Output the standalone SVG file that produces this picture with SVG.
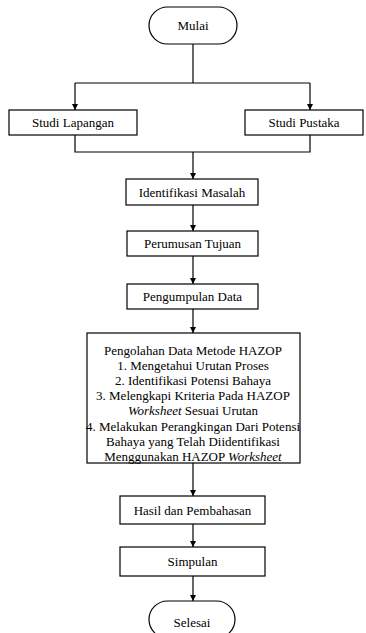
<svg xmlns="http://www.w3.org/2000/svg" width="366" height="633" viewBox="0 0 366 633">
<defs>
<marker id="ah" viewBox="0 0 10 10" refX="10" refY="5" markerWidth="6" markerHeight="7" markerUnits="userSpaceOnUse" orient="auto"><path d="M0,0 L10,5 L0,10 z" fill="#000"/></marker>
<style>
.b{fill:#fff;stroke:#000;stroke-width:1.2}
.t{font-family:'Liberation Serif','Times New Roman',serif;font-size:13px;fill:#000;text-anchor:middle}
.c{fill:none;stroke:#000;stroke-width:1.2}
.a{marker-end:url(#ah)}
</style>
</defs>
<rect width="366" height="633" fill="#fff"/>
<g id="connectors">
<path class="c" d="M193,44 V83"/>
<path class="c" d="M75,83 H310"/>
<path class="c a" d="M75,83 V110"/>
<path class="c a" d="M310,83 V110"/>
<path class="c" d="M75,135 V152 H310 V135"/>
<path class="c a" d="M193,152 V179"/>
<path class="c a" d="M193,205 V231"/>
<path class="c a" d="M193,256 V284"/>
<path class="c a" d="M193,309 V333"/>
<path class="c a" d="M193,463 V496"/>
<path class="c a" d="M193,524 V547"/>
<path class="c a" d="M193,576 V601"/>
</g>
<g font-family="Liberation Serif, Times New Roman, serif">
<g id="mulai"><rect class="b" x="149" y="7" width="88" height="37" rx="18.5"/><text class="t" x="193" y="30">Mulai</text></g>
<g id="studi-lapangan"><rect class="b" x="9" y="110" width="128" height="25"/><text class="t" x="73" y="127">Studi Lapangan</text></g>
<g id="studi-pustaka"><rect class="b" x="245" y="110" width="118" height="25"/><text class="t" x="304" y="127">Studi Pustaka</text></g>
<g id="identifikasi"><rect class="b" x="126" y="179" width="132" height="26"/><text class="t" x="192" y="196.5">Identifikasi Masalah</text></g>
<g id="perumusan"><rect class="b" x="127" y="231" width="131" height="25"/><text class="t" x="192.5" y="248">Perumusan Tujuan</text></g>
<g id="pengumpulan"><rect class="b" x="127" y="284" width="131" height="25"/><text class="t" x="192.5" y="301">Pengumpulan Data</text></g>
<g id="pengolahan"><rect class="b" x="87" y="333" width="213" height="130"/>
<text class="t" x="193" y="354.5">Pengolahan Data Metode HAZOP</text>
<text class="t" x="193" y="369.7">1. Mengetahui Urutan Proses</text>
<text class="t" x="193" y="384.9">2. Identifikasi Potensi Bahaya</text>
<text class="t" x="193" y="400.1">3. Melengkapi Kriteria Pada HAZOP</text>
<text class="t" x="193" y="415.3"><tspan font-style="italic">Worksheet</tspan> Sesuai Urutan</text>
<text class="t" x="193" y="430.5">4. Melakukan Perangkingan Dari Potensi</text>
<text class="t" x="193" y="445.7">Bahaya yang Telah Diidentifikasi</text>
<text class="t" x="193" y="460.9">Menggunakan HAZOP <tspan font-style="italic">Worksheet</tspan></text>
</g>
<g id="hasil"><rect class="b" x="120" y="496" width="145" height="28"/><text class="t" x="192.5" y="514.5">Hasil dan Pembahasan</text></g>
<g id="simpulan"><rect class="b" x="120" y="547" width="145" height="29"/><text class="t" x="192.5" y="566">Simpulan</text></g>
<g id="selesai"><rect class="b" x="149" y="601" width="86" height="37" rx="18.5"/><text class="t" x="192" y="627">Selesai</text></g>
</g>
</svg>
